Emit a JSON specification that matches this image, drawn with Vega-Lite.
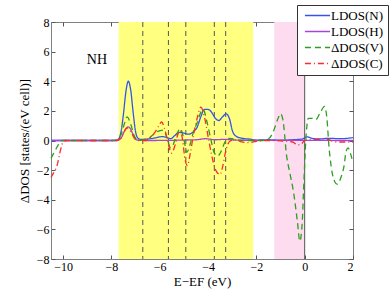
{
  "$schema": "https://vega.github.io/schema/vega-lite/v6.json",
  "width": 302,
  "height": 237,
  "autosize": "none",
  "padding": {"left": 51, "top": 22, "right": 37, "bottom": 34},
  "config": {
    "font": "Liberation Serif",
    "view": {"stroke": "#808080", "strokeWidth": 1},
    "axis": {
      "domainColor": "#808080", "tickColor": "#555555", "tickSize": -4,
      "labelFont": "Liberation Serif", "labelFontSize": 12, "labelColor": "#000000",
      "titleFont": "Liberation Serif", "titleFontSize": 13, "titleFontWeight": "normal", "titleColor": "#000000",
      "grid": false
    },
    "legend": {
      "orient": "none", "legendX": 246, "legendY": -17,
      "fillColor": "white", "strokeColor": "#333333", "padding": 4,
      "symbolType": "M-3,0H3", "symbolSize": 70, "symbolStrokeWidth": 1.5,
      "symbolOffset": 10, "labelOffset": 7,
      "labelFont": "Liberation Serif", "labelFontSize": 13, "labelColor": "#000000", "rowPadding": 2
    }
  },
  "datasets": {
    "curves": [
      {"x": -10.5, "y": 0, "s": "LDOS(N)"}, {"x": -8, "y": 0, "s": "LDOS(N)"}, {"x": -7.8, "y": 0, "s": "LDOS(N)"},
      {"x": -7.7, "y": 0.1, "s": "LDOS(N)"}, {"x": -7.6, "y": 0.6, "s": "LDOS(N)"}, {"x": -7.5, "y": 1.8, "s": "LDOS(N)"},
      {"x": -7.4, "y": 3.3, "s": "LDOS(N)"}, {"x": -7.3, "y": 4.0, "s": "LDOS(N)"}, {"x": -7.2, "y": 3.4, "s": "LDOS(N)"},
      {"x": -7.1, "y": 1.9, "s": "LDOS(N)"}, {"x": -7.0, "y": 0.6, "s": "LDOS(N)"}, {"x": -6.9, "y": 0.15, "s": "LDOS(N)"},
      {"x": -6.8, "y": 0.08, "s": "LDOS(N)"}, {"x": -6.5, "y": 0.1, "s": "LDOS(N)"}, {"x": -6.2, "y": 0.17, "s": "LDOS(N)"},
      {"x": -5.9, "y": 0.26, "s": "LDOS(N)"}, {"x": -5.7, "y": 0.2, "s": "LDOS(N)"}, {"x": -5.55, "y": 0.12, "s": "LDOS(N)"},
      {"x": -5.4, "y": 0.3, "s": "LDOS(N)"}, {"x": -5.2, "y": 0.55, "s": "LDOS(N)"}, {"x": -5.0, "y": 0.5, "s": "LDOS(N)"},
      {"x": -4.8, "y": 0.43, "s": "LDOS(N)"}, {"x": -4.6, "y": 0.6, "s": "LDOS(N)"}, {"x": -4.45, "y": 0.9, "s": "LDOS(N)"},
      {"x": -4.3, "y": 1.6, "s": "LDOS(N)"}, {"x": -4.15, "y": 2.1, "s": "LDOS(N)"}, {"x": -4.0, "y": 2.1, "s": "LDOS(N)"},
      {"x": -3.85, "y": 1.9, "s": "LDOS(N)"}, {"x": -3.7, "y": 1.5, "s": "LDOS(N)"}, {"x": -3.55, "y": 1.35, "s": "LDOS(N)"},
      {"x": -3.4, "y": 1.6, "s": "LDOS(N)"}, {"x": -3.25, "y": 1.8, "s": "LDOS(N)"}, {"x": -3.1, "y": 1.4, "s": "LDOS(N)"},
      {"x": -3.0, "y": 0.7, "s": "LDOS(N)"}, {"x": -2.85, "y": 0.3, "s": "LDOS(N)"}, {"x": -2.6, "y": 0.15, "s": "LDOS(N)"},
      {"x": -2.3, "y": 0.1, "s": "LDOS(N)"}, {"x": -2.0, "y": 0.03, "s": "LDOS(N)"}, {"x": -1.5, "y": 0.05, "s": "LDOS(N)"},
      {"x": -1.0, "y": 0.02, "s": "LDOS(N)"}, {"x": -0.5, "y": 0.05, "s": "LDOS(N)"}, {"x": -0.1, "y": 0.1, "s": "LDOS(N)"},
      {"x": 0.1, "y": 0.25, "s": "LDOS(N)"}, {"x": 0.3, "y": 0.15, "s": "LDOS(N)"}, {"x": 0.6, "y": 0.1, "s": "LDOS(N)"},
      {"x": 1.0, "y": 0.15, "s": "LDOS(N)"}, {"x": 1.5, "y": 0.12, "s": "LDOS(N)"}, {"x": 2.0, "y": 0.2, "s": "LDOS(N)"},

      {"x": -10.5, "y": 0, "s": "LDOS(H)"}, {"x": -7.8, "y": 0, "s": "LDOS(H)"}, {"x": -7.6, "y": 0.15, "s": "LDOS(H)"},
      {"x": -7.5, "y": 0.5, "s": "LDOS(H)"}, {"x": -7.4, "y": 0.8, "s": "LDOS(H)"}, {"x": -7.3, "y": 0.92, "s": "LDOS(H)"},
      {"x": -7.2, "y": 0.75, "s": "LDOS(H)"}, {"x": -7.1, "y": 0.4, "s": "LDOS(H)"}, {"x": -7.0, "y": 0.1, "s": "LDOS(H)"},
      {"x": -6.9, "y": 0.02, "s": "LDOS(H)"}, {"x": -6.5, "y": 0, "s": "LDOS(H)"}, {"x": -4.5, "y": 0.05, "s": "LDOS(H)"},
      {"x": -4.1, "y": 0.12, "s": "LDOS(H)"}, {"x": -3.7, "y": 0.05, "s": "LDOS(H)"}, {"x": -3.3, "y": 0.08, "s": "LDOS(H)"},
      {"x": -2.8, "y": 0.02, "s": "LDOS(H)"}, {"x": 2.0, "y": 0, "s": "LDOS(H)"},

      {"x": -10.5, "y": -1.2, "s": "ΔDOS(V)"}, {"x": -10.35, "y": -0.75, "s": "ΔDOS(V)"}, {"x": -10.2, "y": -0.3, "s": "ΔDOS(V)"},
      {"x": -10.05, "y": 0, "s": "ΔDOS(V)"}, {"x": -8, "y": 0, "s": "ΔDOS(V)"}, {"x": -7.8, "y": 0.05, "s": "ΔDOS(V)"},
      {"x": -7.6, "y": 0.4, "s": "ΔDOS(V)"}, {"x": -7.45, "y": 1.2, "s": "ΔDOS(V)"}, {"x": -7.35, "y": 1.6, "s": "ΔDOS(V)"},
      {"x": -7.2, "y": 1.1, "s": "ΔDOS(V)"}, {"x": -7.05, "y": 0.3, "s": "ΔDOS(V)"}, {"x": -6.9, "y": 0, "s": "ΔDOS(V)"},
      {"x": -6.7, "y": 0.05, "s": "ΔDOS(V)"}, {"x": -6.5, "y": 0.1, "s": "ΔDOS(V)"}, {"x": -6.3, "y": 0.35, "s": "ΔDOS(V)"},
      {"x": -6.1, "y": 0.6, "s": "ΔDOS(V)"}, {"x": -5.85, "y": 0.7, "s": "ΔDOS(V)"}, {"x": -5.7, "y": 0.2, "s": "ΔDOS(V)"},
      {"x": -5.55, "y": -0.5, "s": "ΔDOS(V)"}, {"x": -5.45, "y": -0.3, "s": "ΔDOS(V)"}, {"x": -5.3, "y": 0.4, "s": "ΔDOS(V)"},
      {"x": -5.15, "y": 0.8, "s": "ΔDOS(V)"}, {"x": -5.0, "y": 0.1, "s": "ΔDOS(V)"}, {"x": -4.88, "y": -0.8, "s": "ΔDOS(V)"},
      {"x": -4.75, "y": -0.3, "s": "ΔDOS(V)"}, {"x": -4.6, "y": 0.6, "s": "ΔDOS(V)"}, {"x": -4.45, "y": 1.2, "s": "ΔDOS(V)"},
      {"x": -4.3, "y": 1.9, "s": "ΔDOS(V)"}, {"x": -4.2, "y": 2.1, "s": "ΔDOS(V)"}, {"x": -4.05, "y": 1.3, "s": "ΔDOS(V)"},
      {"x": -3.9, "y": 0.2, "s": "ΔDOS(V)"}, {"x": -3.75, "y": -0.8, "s": "ΔDOS(V)"}, {"x": -3.6, "y": -1.05, "s": "ΔDOS(V)"},
      {"x": -3.45, "y": -0.7, "s": "ΔDOS(V)"}, {"x": -3.3, "y": -0.1, "s": "ΔDOS(V)"}, {"x": -3.15, "y": 0.15, "s": "ΔDOS(V)"},
      {"x": -2.95, "y": 0.1, "s": "ΔDOS(V)"}, {"x": -2.7, "y": 0.02, "s": "ΔDOS(V)"}, {"x": -2.3, "y": 0, "s": "ΔDOS(V)"},
      {"x": -1.8, "y": 0, "s": "ΔDOS(V)"}, {"x": -1.5, "y": 0.1, "s": "ΔDOS(V)"}, {"x": -1.3, "y": 0.6, "s": "ΔDOS(V)"},
      {"x": -1.1, "y": 1.5, "s": "ΔDOS(V)"}, {"x": -1.0, "y": 1.8, "s": "ΔDOS(V)"}, {"x": -0.9, "y": 1.4, "s": "ΔDOS(V)"},
      {"x": -0.75, "y": -1.0, "s": "ΔDOS(V)"}, {"x": -0.6, "y": -2.3, "s": "ΔDOS(V)"}, {"x": -0.45, "y": -3.6, "s": "ΔDOS(V)"},
      {"x": -0.3, "y": -5.5, "s": "ΔDOS(V)"}, {"x": -0.2, "y": -6.8, "s": "ΔDOS(V)"}, {"x": -0.1, "y": -5.5, "s": "ΔDOS(V)"},
      {"x": -0.05, "y": -3.5, "s": "ΔDOS(V)"}, {"x": 0.05, "y": 0.1, "s": "ΔDOS(V)"}, {"x": 0.15, "y": 1.5, "s": "ΔDOS(V)"},
      {"x": 0.3, "y": 1.5, "s": "ΔDOS(V)"}, {"x": 0.45, "y": 1.4, "s": "ΔDOS(V)"}, {"x": 0.65, "y": 1.9, "s": "ΔDOS(V)"},
      {"x": 0.82, "y": 2.3, "s": "ΔDOS(V)"}, {"x": 0.92, "y": 1.5, "s": "ΔDOS(V)"}, {"x": 1.0, "y": -0.3, "s": "ΔDOS(V)"},
      {"x": 1.1, "y": -1.8, "s": "ΔDOS(V)"}, {"x": 1.25, "y": -2.8, "s": "ΔDOS(V)"}, {"x": 1.35, "y": -2.95, "s": "ΔDOS(V)"},
      {"x": 1.5, "y": -2.5, "s": "ΔDOS(V)"}, {"x": 1.62, "y": -1.8, "s": "ΔDOS(V)"}, {"x": 1.72, "y": -0.7, "s": "ΔDOS(V)"},
      {"x": 1.8, "y": -0.5, "s": "ΔDOS(V)"}, {"x": 1.9, "y": -0.9, "s": "ΔDOS(V)"}, {"x": 2.0, "y": -1.5, "s": "ΔDOS(V)"},

      {"x": -10.5, "y": -2.5, "s": "ΔDOS(C)"}, {"x": -10.4, "y": -2.2, "s": "ΔDOS(C)"}, {"x": -10.25, "y": -1.7, "s": "ΔDOS(C)"},
      {"x": -10.1, "y": -0.6, "s": "ΔDOS(C)"}, {"x": -10.0, "y": -0.1, "s": "ΔDOS(C)"}, {"x": -9.9, "y": 0, "s": "ΔDOS(C)"},
      {"x": -7.8, "y": 0, "s": "ΔDOS(C)"}, {"x": -7.6, "y": 0.2, "s": "ΔDOS(C)"}, {"x": -7.45, "y": 0.65, "s": "ΔDOS(C)"},
      {"x": -7.35, "y": 0.85, "s": "ΔDOS(C)"}, {"x": -7.2, "y": 0.6, "s": "ΔDOS(C)"}, {"x": -7.05, "y": 0.15, "s": "ΔDOS(C)"},
      {"x": -6.9, "y": 0, "s": "ΔDOS(C)"}, {"x": -6.6, "y": 0, "s": "ΔDOS(C)"}, {"x": -6.4, "y": 0.2, "s": "ΔDOS(C)"},
      {"x": -6.2, "y": 0.55, "s": "ΔDOS(C)"}, {"x": -6.05, "y": 0.95, "s": "ΔDOS(C)"}, {"x": -5.92, "y": 1.25, "s": "ΔDOS(C)"},
      {"x": -5.8, "y": 0.8, "s": "ΔDOS(C)"}, {"x": -5.65, "y": -0.2, "s": "ΔDOS(C)"}, {"x": -5.52, "y": -0.85, "s": "ΔDOS(C)"},
      {"x": -5.4, "y": -0.5, "s": "ΔDOS(C)"}, {"x": -5.25, "y": 0.4, "s": "ΔDOS(C)"}, {"x": -5.15, "y": 0.7, "s": "ΔDOS(C)"},
      {"x": -5.05, "y": 0.0, "s": "ΔDOS(C)"}, {"x": -4.95, "y": -1.3, "s": "ΔDOS(C)"}, {"x": -4.85, "y": -1.7, "s": "ΔDOS(C)"},
      {"x": -4.75, "y": -1.0, "s": "ΔDOS(C)"}, {"x": -4.6, "y": 0.4, "s": "ΔDOS(C)"}, {"x": -4.45, "y": 1.5, "s": "ΔDOS(C)"},
      {"x": -4.3, "y": 2.25, "s": "ΔDOS(C)"}, {"x": -4.15, "y": 1.6, "s": "ΔDOS(C)"}, {"x": -4.0, "y": 0.3, "s": "ΔDOS(C)"},
      {"x": -3.85, "y": -1.0, "s": "ΔDOS(C)"}, {"x": -3.65, "y": -2.1, "s": "ΔDOS(C)"}, {"x": -3.5, "y": -2.3, "s": "ΔDOS(C)"},
      {"x": -3.4, "y": -1.8, "s": "ΔDOS(C)"}, {"x": -3.25, "y": -0.6, "s": "ΔDOS(C)"}, {"x": -3.1, "y": -0.05, "s": "ΔDOS(C)"},
      {"x": -2.9, "y": 0.05, "s": "ΔDOS(C)"}, {"x": -2.6, "y": -0.1, "s": "ΔDOS(C)"}, {"x": -2.3, "y": -0.15, "s": "ΔDOS(C)"},
      {"x": -2.0, "y": -0.05, "s": "ΔDOS(C)"}, {"x": -1.5, "y": 0, "s": "ΔDOS(C)"}, {"x": -0.5, "y": -0.1, "s": "ΔDOS(C)"},
      {"x": -0.3, "y": -0.3, "s": "ΔDOS(C)"}, {"x": -0.15, "y": -0.25, "s": "ΔDOS(C)"}, {"x": 0.0, "y": 0, "s": "ΔDOS(C)"},
      {"x": 0.3, "y": 0.05, "s": "ΔDOS(C)"}, {"x": 0.8, "y": 0.1, "s": "ΔDOS(C)"}, {"x": 1.0, "y": 0.05, "s": "ΔDOS(C)"},
      {"x": 1.3, "y": -0.1, "s": "ΔDOS(C)"}, {"x": 1.7, "y": -0.1, "s": "ΔDOS(C)"}, {"x": 2.0, "y": -0.1, "s": "ΔDOS(C)"}
    ],
    "yellow": [{"x": -7.7, "x2": -2.13}],
    "pink": [{"x": -1.26, "x2": 0}],
    "dashes": [{"x": -6.7}, {"x": -5.64}, {"x": -4.92}, {"x": -3.74}, {"x": -3.27}],
    "fermi": [{"x": 0}],
    "label": [{"x": -8.6, "y": 5.45, "t": "NH"}]
  },
  "resolve": {"axis": {"x": "independent", "y": "independent"}},
  "layer": [
    {
      "data": {"name": "yellow"},
      "mark": {"type": "rect", "color": "#FFFF80", "opacity": 1},
      "encoding": {
        "x": {"field": "x", "type": "quantitative", "scale": {"domain": [-10.5, 2], "nice": false}, "axis": null},
        "x2": {"field": "x2"}
      }
    },
    {
      "data": {"name": "pink"},
      "mark": {"type": "rect", "color": "#FCDCEE", "opacity": 1},
      "encoding": {
        "x": {"field": "x", "type": "quantitative", "axis": null},
        "x2": {"field": "x2"}
      }
    },
    {
      "data": {"name": "dashes"},
      "mark": {"type": "rule", "color": "#555555", "strokeDash": [5, 4], "strokeWidth": 1},
      "encoding": {
        "x": {"field": "x", "type": "quantitative", "axis": null}
      }
    },
    {
      "data": {"name": "fermi"},
      "mark": {"type": "rule", "color": "#555555", "strokeWidth": 1},
      "encoding": {
        "x": {"field": "x", "type": "quantitative", "axis": {"orient": "top", "labels": false, "title": null, "values": [-10, -8, -6, -4, -2, 0, 2], "domain": false}}
      }
    },
    {
      "data": {"name": "curves"},
      "mark": {"type": "line", "interpolate": "monotone", "strokeWidth": 1.3},
      "encoding": {
        "x": {"field": "x", "type": "quantitative", "scale": {"domain": [-10.5, 2], "nice": false},
              "axis": {"title": "E−EF (eV)", "values": [-10, -8, -6, -4, -2, 0, 2], "labelPadding": 6, "titlePadding": 3}},
        "y": {"field": "y", "type": "quantitative", "scale": {"domain": [-8, 8], "nice": false},
              "axis": {"title": "ΔDOS [states/(eV cell)]", "values": [-8, -6, -4, -2, 0, 2, 4, 6, 8], "labelPadding": 6, "titlePadding": 5}},
        "color": {"field": "s", "type": "nominal",
                  "scale": {"domain": ["LDOS(N)", "LDOS(H)", "ΔDOS(V)", "ΔDOS(C)"], "range": ["#3355EE", "#A845D8", "#2E9E1E", "#FF2A2A"]},
                  "legend": {"title": null}},
        "strokeDash": {"field": "s", "type": "nominal",
                  "scale": {"domain": ["LDOS(N)", "LDOS(H)", "ΔDOS(V)", "ΔDOS(C)"], "range": [[1, 0], [1, 0], [6, 4], [6, 3, 1, 3]]},
                  "legend": {"title": null}}
      }
    },
    {
      "data": {"name": "label"},
      "mark": {"type": "text", "font": "Liberation Serif", "fontSize": 14, "color": "#000000"},
      "encoding": {
        "x": {"field": "x", "type": "quantitative", "axis": null},
        "y": {"field": "y", "type": "quantitative", "axis": {"orient": "right", "labels": false, "title": null, "values": [-8, -6, -4, -2, 0, 2, 4, 6, 8], "domain": false}},
        "text": {"field": "t"}
      }
    }
  ]
}
